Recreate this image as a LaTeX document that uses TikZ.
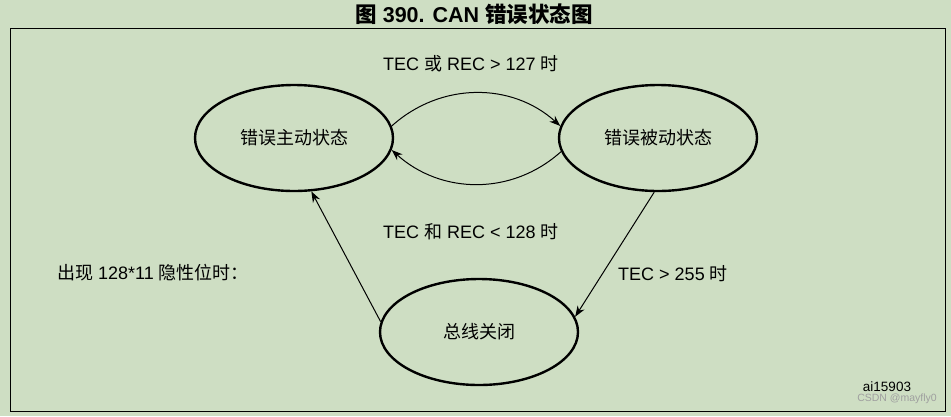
\documentclass[tikz,border=0pt]{standalone}
\usepackage{fontspec}
\setmainfont{Liberation Sans}
\newfontfamily\cjk{Noto Sans CJK SC}
\usetikzlibrary{arrows.meta,shapes.geometric}
\definecolor{bg}{HTML}{CEDEC3}
\tikzset{
  st/.style={draw, line width=2.4pt, ellipse, minimum width=198pt, minimum height=106pt, inner sep=0pt, font=\cjk\fontsize{18}{20}\selectfont},
  tr/.style={-{Stealth[length=11pt,width=8pt]}, line width=1pt},
  lbl/.style={font=\fontsize{18}{20}\selectfont, inner sep=0pt}
}
\begin{document}
\begin{tikzpicture}[x=1pt,y=-1pt]
\fill[bg] (0,0) rectangle (951,416);
\useasboundingbox (0,0) rectangle (951,416);
\draw[line width=1pt] (10,28) rectangle (945,411);
\node[font=\bfseries\fontsize{21.5}{24}\selectfont, inner sep=0pt] (title) at (474,14) {{\cjk\bfseries 图} 390. CAN {\cjk\bfseries 错误状态图}};
\node[st] (act) at (294,138) {错误主动状态};
\node[st] (pas) at (658,138) {错误被动状态};
\node[st] (off) at (479,332) {总线关闭};
\draw[tr] (act.7) to[out=42,in=138] (pas.173);
\draw[tr] (pas.188) to[out=-138,in=-42] (act.-7);
\draw[tr] (off.174) -- (act.-72);
\draw[tr] (pas.-94) -- (off.9);
\node[lbl] (l1) at (471,64) {TEC {\cjk 或} REC > 127 {\cjk 时}};
\node[lbl] (l2) at (471,232) {TEC {\cjk 和} REC < 128 {\cjk 时}};
\node[lbl] (l3) at (673,274) {TEC > 255 {\cjk 时}};
\node[lbl, anchor=west] (l4) at (57,273) {{\cjk 出现} 128*11 {\cjk 隐性位时：}};
\node[font=\fontsize{13.5}{15}\selectfont, inner sep=0pt] (id) at (887,387) {ai15903};
\node[font=\fontsize{10.5}{11}\selectfont, text=gray!75, inner sep=0pt] (wm) at (897,399) {CSDN @mayfly0};
\end{tikzpicture}
\end{document}
